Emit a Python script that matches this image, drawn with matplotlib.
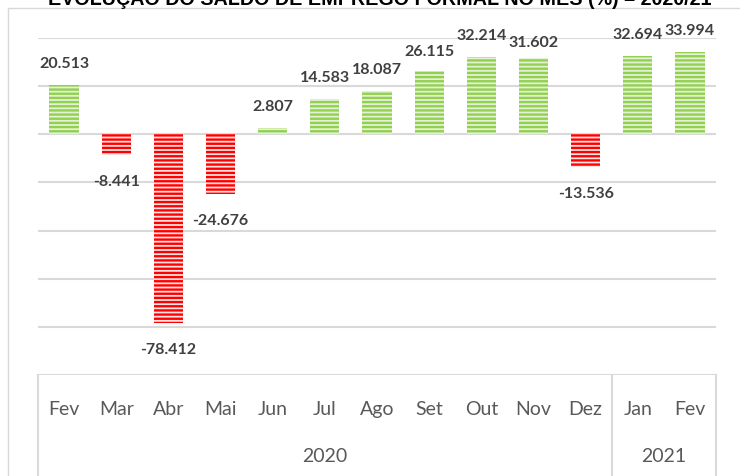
import matplotlib
matplotlib.use("Agg")
import matplotlib.pyplot as plt
from matplotlib.patches import Rectangle
from matplotlib.transforms import blended_transform_factory

# ---- data ----
months = ['Fev', 'Mar', 'Abr', 'Mai', 'Jun', 'Jul', 'Ago', 'Set', 'Out', 'Nov', 'Dez', 'Jan', 'Fev']
values = [20.513, -8.441, -78.412, -24.676, 2.807, 14.583, 18.087, 26.115, 32.214, 31.602, -13.536, 32.694, 33.994]
years = ['2020', '2021']
year_counts = [11, 2]
title = 'EVOLUÇÃO DO SALDO DE EMPREGO FORMAL NO MÊS (%) – 2020/21'

# small manual label nudges (pixels), Excel-like placement
label_dy = {7: -2, 9: -6}

W, H = 740, 477
plt.rcParams['hatch.linewidth'] = 1.7
fig = plt.figure(figsize=(W / 100, H / 100), dpi=100)

grid_c = '#D9D9D9'
# outer chart border
fig.patches.append(Rectangle((8 / W, -0.1), 1.2, (H - 9) / H + 0.1, transform=fig.transFigure,
                             fill=False, edgecolor=grid_c, linewidth=1.0))

ax = fig.add_axes([38 / W, 1 - 376 / H, 678 / W, 337 / H])
green, red = '#92D050', '#FF0000'
for i, v in enumerate(values):
    pos = v >= 0
    ax.bar(i, v, width=0.56, facecolor='#E4F2D4' if pos else '#FFE3E3',
           edgecolor=green if pos else red, linewidth=0, hatch='----', zorder=3)

ax.set_xlim(-0.5, len(values) - 0.5)
ax.set_ylim(-100, 40)
ax.set_yticks(range(-100, 41, 20))
ax.yaxis.grid(True, color=grid_c, linewidth=1.5, zorder=0)
ax.tick_params(left=False, labelleft=False, bottom=False, labelbottom=False)
for s in ax.spines.values():
    s.set_visible(False)

lab_font = dict(family=['Lato', 'DejaVu Sans'], fontweight='bold', fontsize=11.5, color='#404040')
for i, v in enumerate(values):
    dy = label_dy.get(i, 0)
    if v >= 0:
        off = (18 + dy) * 0.72
    else:
        off = -30 * 0.72
    ax.annotate(f'{v:.3f}', (i, v), xytext=(0, off), textcoords='offset points',
                ha='center', va='baseline', zorder=5, **lab_font)

# multi-level category axis
tr = blended_transform_factory(ax.transData, ax.transAxes)
cat_font = dict(family=['Lato', 'DejaVu Sans'], fontsize=14, color='#595959')
for i, m in enumerate(months):
    ax.text(i, -39 / 337, m, transform=tr, ha='center', va='baseline', clip_on=False, **cat_font)

start = 0
bounds = [-0.5]
for y, c in zip(years, year_counts):
    ax.text(start + (c - 1) / 2, -86 / 337, y, transform=tr, ha='center', va='baseline',
            clip_on=False, **cat_font)
    start += c
    bounds.append(start - 0.5)
for b in bounds:
    ax.plot([b, b], [0, -0.35], transform=tr, color=grid_c, linewidth=1.5, clip_on=False)

fig.text(380 / W, 1 - 5 / H, title, ha='center', va='baseline',
         family=['Liberation Sans', 'DejaVu Sans'], fontweight='bold', fontsize=14.2, color='black')

fig.savefig('out.png', dpi=100)
